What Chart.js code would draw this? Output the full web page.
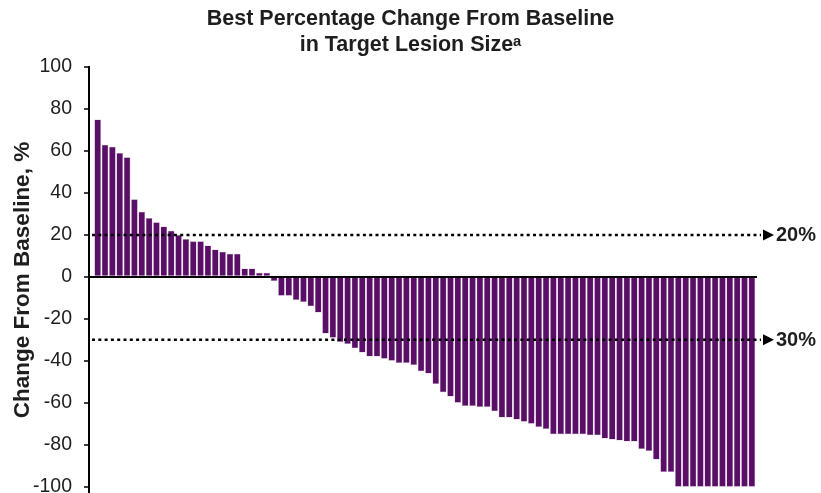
<!DOCTYPE html>
<html>
<head>
<meta charset="utf-8">
<script src="https://cdn.jsdelivr.net/npm/chart.js@4.4.1/dist/chart.umd.min.js"></script>
<style>
  html, body { margin: 0; padding: 0; background: #ffffff; }
  #wrap { width: 821px; height: 493px; }
</style>
</head>
<body>
<div id="wrap"><canvas id="waterfall" width="821" height="493"></canvas></div>
<script>
// Best percentage change from baseline in target lesion size, one bar per patient,
// sorted from largest increase to largest decrease.
const bestChange = [
  75, 63, 62, 59, 57, 37, 31, 28, 26, 24,
  22, 20, 18, 17, 17, 15, 13, 12, 11, 11,
  4, 4, 2, 2, -2, -9, -9, -11, -12, -14,
  -17, -27, -29, -31, -32, -34, -36, -38, -38, -39,
  -40, -41, -41, -42, -45, -46, -51, -55, -57, -60,
  -61.5, -61.5, -62, -62, -64, -67, -67, -68, -69, -70,
  -71.5, -72.5, -75, -75, -75, -75, -75, -75.5, -75.5, -77,
  -77.5, -78, -78.5, -78.5, -82, -83, -87, -93, -93, -100,
  -100, -100, -100, -100, -100, -100, -100, -100, -100, -100
];
const patients = bestChange.map((_, i) => i + 1);

const yTickValues = [-100, -80, -60, -40, -20, 0, 20, 40, 60, 80, 100];
const thresholds = [20, -30];
const thresholdLabels = ['20%', '30%'];

const titleLines = ['Best Percentage Change From Baseline', 'in Target Lesion Size\u1D43'];
const yAxisTitle = 'Change From Baseline, %';

const FONT = '"Liberation Sans", Arial, "DejaVu Sans", sans-serif';
const TEXT = '#1e1e1e';
const BAR = '#5a0f66';

// Dotted reference lines with an arrowhead and label past the right edge of the plot.
const thresholdLines = {
  id: 'thresholdLines',
  afterDraw(chart) {
    const { ctx, chartArea, scales } = chart;
    const y = scales.y;
    ctx.save();
    thresholds.forEach((v, i) => {
      const py = y.getPixelForValue(v);
      ctx.strokeStyle = '#000';
      ctx.fillStyle = '#000';
      ctx.lineWidth = 2.5;
      ctx.setLineDash([3, 3.3]);
      ctx.beginPath();
      ctx.moveTo(chartArea.left + 3, py);
      ctx.lineTo(chartArea.right + 4, py);
      ctx.stroke();
      ctx.setLineDash([]);
      const ax = chartArea.right + 6;
      ctx.beginPath();
      ctx.moveTo(ax, py - 5.5);
      ctx.lineTo(ax + 11, py);
      ctx.lineTo(ax, py + 5.5);
      ctx.closePath();
      ctx.fill();
      ctx.fillStyle = TEXT;
      ctx.font = 'bold 20px ' + FONT;
      ctx.textAlign = 'left';
      ctx.textBaseline = 'middle';
      ctx.fillText(thresholdLabels[i], ax + 13, py + 1);
    });
    ctx.restore();
  }
};

new Chart(document.getElementById('waterfall'), {
  type: 'bar',
  data: {
    labels: patients,
    datasets: [{
      data: bestChange,
      backgroundColor: BAR,
      borderColor: 'rgba(190, 150, 205, 0.9)',
      borderWidth: 0.5,
      borderSkipped: 'start',
      categoryPercentage: 1,
      barPercentage: 0.9
    }]
  },
  options: {
    responsive: false,
    animation: false,
    devicePixelRatio: 1,
    layout: { padding: 0 },
    plugins: {
      legend: { display: false },
      tooltip: { enabled: false },
      title: {
        display: true,
        text: titleLines,
        color: TEXT,
        font: { family: FONT, size: 21.5, weight: 'bold', lineHeight: 1.21 },
        padding: { top: 6, bottom: 9 }
      }
    },
    scales: {
      x: {
        type: 'linear',
        display: false,
        offset: false,
        min: -0.18,
        max: 90.7,
        grid: { display: false }
      },
      y: {
        position: 'left',
        min: -103,
        max: 100,
        z: 1,
        afterBuildTicks: (s) => { s.ticks = yTickValues.map(v => ({ value: v })); },
        afterFit: (s) => { s.width = 89; s.paddingBottom = 0; s.paddingTop = 0; },
        ticks: {
          color: TEXT,
          padding: 12,
          font: { family: FONT, size: 19.5 }
        },
        grid: {
          color: (c) => (c.tick && c.tick.value === 0 ? '#000' : 'rgba(0,0,0,0)'),
          lineWidth: 2,
          tickColor: '#000',
          tickWidth: 1.5,
          tickLength: 5,
          drawTicks: true
        },
        border: { display: true, color: '#000', width: 2 },
        title: {
          display: true,
          text: yAxisTitle,
          color: TEXT,
          font: { family: FONT, size: 22.5, weight: 'bold', lineHeight: 1.2 },
          padding: { top: 9, bottom: 0 }
        }
      },
      yRight: {
        position: 'right',
        display: true,
        min: 0,
        max: 1,
        ticks: { display: false },
        grid: { display: false, drawTicks: false },
        border: { display: false },
        afterFit: (s) => { s.width = 64; }
      }
    }
  },
  plugins: [thresholdLines]
});
</script>
</body>
</html>
